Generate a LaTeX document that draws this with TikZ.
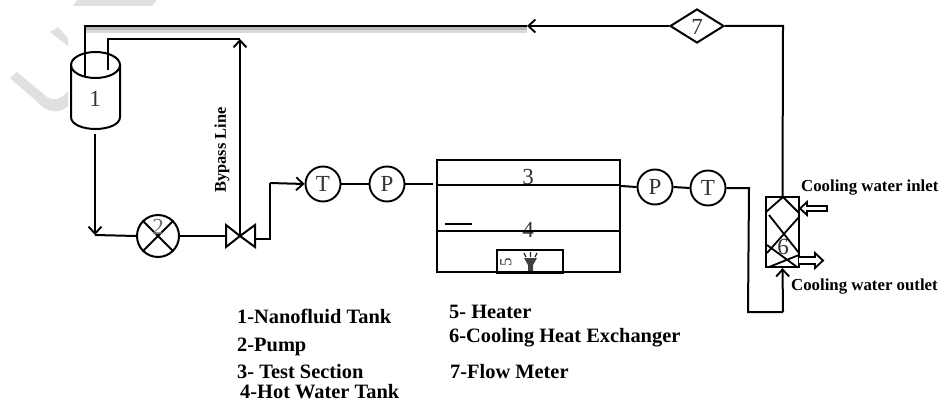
\documentclass[tikz,border=0pt]{standalone}
\usepackage{fontspec}
\setmainfont{Liberation Serif}
\usetikzlibrary{arrows.meta,shapes.geometric}
\tikzset{
  x=1pt,y=-1pt,
  pipe/.style={draw=black,line width=2pt},
  flow/.style={pipe,-{Straight Barb[length=7pt,width=13pt,line width=1.9pt]}},
  gauge/.style={circle,draw=black,line width=1.9pt,minimum size=35pt,inner sep=0pt,font=\fontsize{23}{23}\selectfont,text=black!80},
  num/.style={font=\fontsize{23}{23}\selectfont,text=black!80,inner sep=0pt},
  legend/.style={font=\fontsize{20.4}{21}\bfseries\selectfont,anchor=west,inner sep=0pt,text=black},
  cool/.style={font=\fontsize{16.8}{17}\bfseries\selectfont,anchor=west,inner sep=0pt,text=black},
  markband/.style={fill=black!12},
  hollow/.style={draw=black,line width=1.8pt,fill=white},
}
\begin{document}
\begin{tikzpicture}
\useasboundingbox (0,0) rectangle (941,404);
% watermark
\fill[markband] (77,0) -- (157,0) -- (152,6) -- (73,6) -- cycle;
\fill[markband] (50,32) -- (58,27) -- (68,38) -- (68,46) -- cycle;
\fill[markband] (10,78) -- (17,72) -- (47,97) .. controls (55,102) and (62,98) .. (68,91) -- (68,106) .. controls (60,113) and (52,113) .. (43,107) -- cycle;
% shadow under top line
\fill[black!28] (85,27) rectangle (527,30);
\fill[black!14] (85,30) rectangle (527,33);
% tank
\coordinate (tankTL) at (71,65);
\coordinate (tankTR) at (120,65);
\draw[pipe] (tankTL) -- (71,117) .. controls (71,125) and (84,129) .. (95.5,129) .. controls (107,129) and (120,125) .. (120,117) -- (tankTR);
\draw[pipe] (95.5,65) ellipse[x radius=24.5,y radius=13];
\node[num] (n1) at (95,99) {1};
\coordinate (tankBot) at (95,134);
\coordinate (tankIn) at (85,77);
\coordinate (tankOut) at (108,70);
% pump
\node[circle,draw=black,line width=2pt,minimum size=42pt,inner sep=0pt] (pump) at (158,236) {};
\draw[pipe] (pump.north west) -- (pump.south east) (pump.north east) -- (pump.south west);
\node[num,text=black!55] (n2) at (158,227) {2};
% valve
\coordinate (valve) at (240,236);
\draw[pipe] (valve) -- (226,225) -- (226,247) -- cycle;
\draw[pipe] (valve) -- (255,225) -- (255,247) -- cycle;
% gauges
\node[gauge] (T1) at (323,184) {T};
\node[gauge] (P1) at (387,184) {P};
\node[gauge] (P2) at (655,187) {P};
\node[gauge] (T2) at (708,188) {T};
% test section
\node[draw=black,line width=2pt,minimum width=183pt,minimum height=112pt,inner sep=0pt] (box) at (528.5,216) {};
\node[num] (n3) at (528,177) {3};
\node[num] (n4) at (528,230) {4};
\draw[pipe] (box.west |- 0,185) -- (box.east |- 0,185);
\draw[pipe,line width=1.5pt] (box.west |- 0,231) -- (box.east |- 0,231);
\draw[pipe,line width=2.4pt] (445,224) -- (472,224);
% heater
\node[draw=black,line width=1.8pt,minimum width=66pt,minimum height=22pt,inner sep=0pt] (heater) at (530,261) {};
\draw[pipe,line width=2.6pt] (heater.south west) -- (heater.south east);
\node[num,rotate=90,font=\fontsize{17}{17}\selectfont] (n5) at (506,262) {5};
\fill[black!75] (524,258) -- (537,258) -- (533,265) -- (533,271) -- (528,271) -- (528,265) -- cycle;
\draw[black!85,line width=1.2pt] (524,253) -- (526,257) (530.5,252) -- (530.5,257) (537,253) -- (535,257);
% exchanger
\node[draw=black,line width=2.2pt,minimum width=33pt,minimum height=70pt,inner sep=0pt] (hx) at (782.5,232) {};
\node[num] (n6) at (783,247) {6};
\draw[pipe,line width=1.8pt] (766,212) -- (783,197) -- (799,213)
  (769,215) -- (799,253) (799,217) -- (767,253)
  (767,245) -- (797,267) (799,255) -- (769,267);
% hollow arrows
\draw[hollow] (827,206) -- (807,206) -- (807,202) -- (800,208.5) -- (807,215) -- (807,211) -- (827,211) -- cycle;
\draw[hollow] (799,257) -- (815,257) -- (815,253) -- (823,260.5) -- (815,268) -- (815,264) -- (799,264);
% flow meter
\node[diamond,draw=black,line width=2pt,minimum width=54pt,minimum height=34pt,inner sep=0pt,aspect=1.6] (fm) at (697,26) {};
\node[num] (n7) at (697,27) {7};
% top return
\coordinate (arrowTip) at (527,26);
\draw[pipe] (hx.north) -- (783,26) -- (fm.east);
\draw[flow] (fm.west) -- (arrowTip);
\draw[pipe,line width=2.4pt] (arrowTip) -- (85,26) -- (tankIn);
% bypass
\draw[flow] (valve) -- (240,39);
\draw[pipe] (240,39) -- (108,39) -- (tankOut);
% feed
\coordinate (feedCorner) at (95,235);
\draw[flow] (tankBot) -- (feedCorner);
\draw[pipe] (feedCorner) -- (pump.west);
\draw[pipe] (pump.east) -- (226,236);
\draw[pipe] (255,239) -- (270,239) -- (270,183);
\draw[flow] (270,183) -- (T1.west);
\draw[pipe] (T1.east) -- (P1.west);
\draw[pipe] (P1.east) -- (433,184);
\draw[pipe] (box.east |- 0,186) -- (P2.west);
\draw[pipe] (P2.east) -- (T2.west);
\draw[pipe] (T2.east) -- (749,188) -- (748,312) -- (783,312);
\draw[flow] (783,312) -- (hx.south);
% labels
\node[rotate=90,font=\fontsize{16.4}{17}\bfseries\selectfont,text=black,inner sep=0pt] (byp) at (222,150) {Bypass Line};
\node[cool] (ci) at (801,188) {Cooling water inlet};
\node[cool] (co) at (791,287) {Cooling water outlet};
\node[legend] (l1) at (237,316) {1-Nanofluid Tank};
\node[legend] (l2) at (237,347) {2-Pump};
\node[legend] (l3) at (237,372) {3- Test Section};
\node[legend] (l4) at (240,392) {4-Hot Water Tank};
\node[legend] (l5) at (449,312) {5- Heater};
\node[legend] (l6) at (449,338) {6-Cooling Heat Exchanger};
\node[legend] (l7) at (450,372) {7-Flow Meter};
\end{tikzpicture}
\end{document}
